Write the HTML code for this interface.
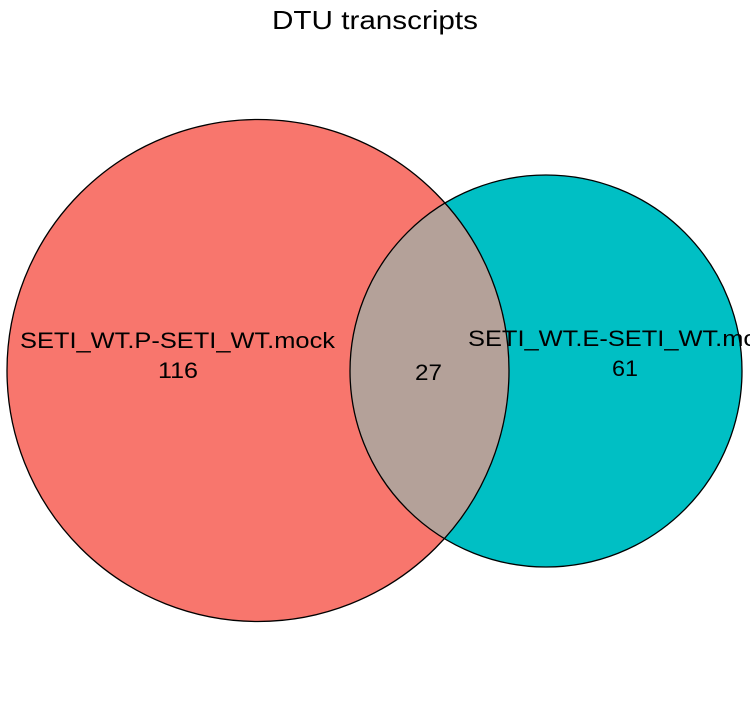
<!DOCTYPE html>
<html><head><meta charset="utf-8"><style>
html,body{margin:0;padding:0;background:#fff;}
svg{display:block;}
text{font-family:"Liberation Sans",sans-serif;fill:#000;}
</style></head><body>
<svg width="750" height="705" viewBox="0 0 750 705" xmlns="http://www.w3.org/2000/svg">
<defs><clipPath id="cl"><circle cx="258" cy="370.5" r="251"/></clipPath></defs>
<rect width="750" height="705" fill="#fff"/>
<text x="272" y="29" font-size="26" textLength="206" lengthAdjust="spacingAndGlyphs">DTU transcripts</text>
<circle cx="258" cy="370.5" r="251" fill="#F8766D"/>
<circle cx="546" cy="371" r="196" fill="#00BFC4"/>
<circle cx="546" cy="371" r="196" fill="#B4A199" clip-path="url(#cl)"/>
<circle cx="258" cy="370.5" r="251" fill="none" stroke="#000" stroke-width="1.3"/>
<circle cx="546" cy="371" r="196" fill="none" stroke="#000" stroke-width="1.3"/>
<text x="20" y="348" font-size="22" textLength="315" lengthAdjust="spacingAndGlyphs">SETI_WT.P-SETI_WT.mock</text>
<text x="158" y="378" font-size="22" textLength="40" lengthAdjust="spacingAndGlyphs">116</text>
<text x="415" y="380" font-size="22" textLength="27" lengthAdjust="spacingAndGlyphs">27</text>
<text x="468" y="346" font-size="22" textLength="315" lengthAdjust="spacingAndGlyphs">SETI_WT.E-SETI_WT.mock</text>
<text x="612" y="376" font-size="22" textLength="26" lengthAdjust="spacingAndGlyphs">61</text>
</svg>
</body></html>
